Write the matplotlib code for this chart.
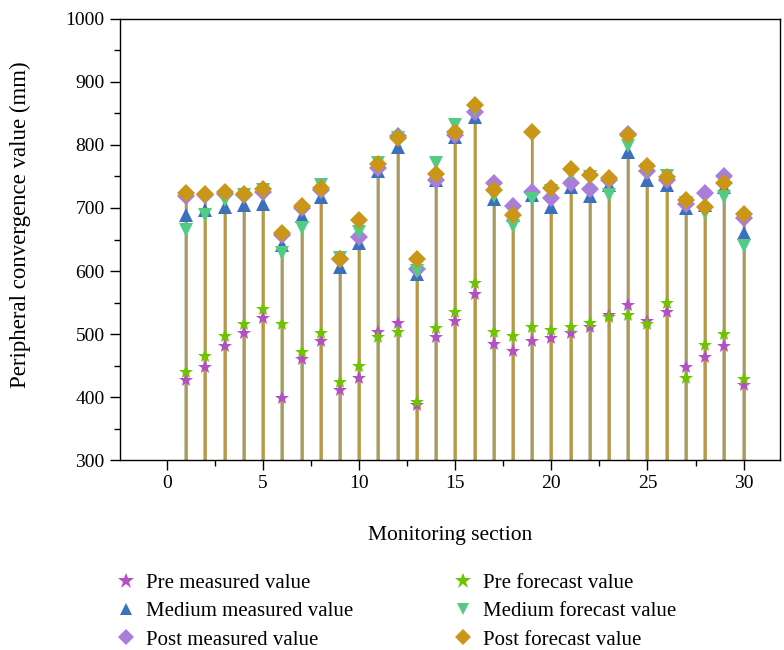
import numpy as np
import matplotlib
matplotlib.use('Agg')
import matplotlib.pyplot as plt
from matplotlib.ticker import MultipleLocator

plt.rcParams['font.family'] = ['Liberation Serif', 'DejaVu Serif']

# --- Data ---
sections = list(range(1, 31))

pre_measured = [427, 448, 481, 501, 526, 398, 461, 489, 411, 431,
                503, 518, 387, 496, 521, 563, 484, 473, 489, 494,
                501, 511, 531, 546, 521, 535, 448, 464, 481, 419]
medium_measured = [689, 697, 702, 705, 707, 641, 687, 717, 607, 645,
                   758, 796, 596, 744, 812, 844, 715, 689, 721, 702,
                   733, 719, 737, 789, 744, 737, 700, 705, 733, 660]
post_measured = [719, 720, 722, 720, 725, 657, 700, 728, 619, 654,
                 763, 814, 603, 744, 815, 853, 739, 703, 726, 716,
                 739, 730, 745, 818, 758, 745, 707, 723, 751, 684]
pre_forecast = [440, 465, 497, 516, 540, 516, 471, 501, 424, 449,
                496, 503, 393, 510, 535, 581, 503, 497, 512, 506,
                512, 518, 527, 531, 516, 549, 430, 483, 500, 428]
medium_forecast = [665, 689, 713, 720, 728, 628, 668, 736, 620, 662,
                   771, 811, 600, 771, 832, 855, 719, 671, 715, 727,
                   754, 749, 720, 798, 760, 751, 708, 692, 718, 639]
post_forecast = [723, 722, 725, 722, 730, 660, 703, 731, 619, 681,
                 769, 811, 619, 754, 820, 863, 729, 689, 821, 732,
                 762, 752, 748, 816, 767, 749, 712, 701, 739, 690]

series = [
    ('Pre measured value', pre_measured, '*', '#b550c4', 10),
    ('Medium measured value', medium_measured, '^', '#3b70bd', 10),
    ('Post measured value', post_measured, 'D', '#a97ed8', 9),
    ('Pre forecast value', pre_forecast, '*', '#6ec400', 10),
    ('Medium forecast value', medium_forecast, 'v', '#52cc84', 10),
    ('Post forecast value', post_forecast, 'D', '#c99618', 9),
]

# --- Plot ---
fig = plt.figure(figsize=(7.84, 6.5), dpi=100)
ax = fig.add_axes([0.153, 0.292, 0.842, 0.679])

# stems from baseline to each value
for label, vals, mk, col, ms in series:
    ax.vlines(sections, 300, vals, colors=col, linewidth=1.6, zorder=1)
# grey-olive stem tint like the original
ax.vlines(sections, 300, post_forecast, colors='#b39a50', linewidth=1.8, zorder=1.5)

handles = []
for label, vals, mk, col, ms in series:
    h, = ax.plot(sections, vals, linestyle='none', marker=mk, color=col,
                 markersize=ms, markeredgewidth=0, label=label, zorder=3)
    handles.append(h)

ax.set_xlim(-2.45, 31.9)
ax.set_ylim(300, 1000)
ax.xaxis.set_major_locator(MultipleLocator(5))
ax.xaxis.set_minor_locator(MultipleLocator(2.5))
ax.yaxis.set_major_locator(MultipleLocator(100))
ax.yaxis.set_minor_locator(MultipleLocator(50))
ax.tick_params(which='major', direction='out', length=7, width=1, labelsize=14, pad=4)
ax.tick_params(which='minor', direction='out', length=4, width=1)
for sp in ax.spines.values():
    sp.set_linewidth(1)

ax.set_xlabel('Monitoring section', fontsize=15.5, labelpad=24)
ax.set_ylabel('Peripheral convergence value (mm)', fontsize=16.5)
ax.yaxis.set_label_coords(-0.135, 0.533)

leg_kw = dict(frameon=False, fontsize=15, loc='upper left', borderpad=0,
              borderaxespad=0, handlelength=0.8, handletextpad=0.56,
              labelspacing=0.42)
leg1 = fig.legend(handles=handles[:3], bbox_to_anchor=(0.150, 0.118), **leg_kw)
leg2 = fig.legend(handles=handles[3:], bbox_to_anchor=(0.580, 0.118), **leg_kw)
# legend stars a bit larger, other markers a bit smaller
for leg in (leg1, leg2):
    for lh in leg.legend_handles:
        lh.set_markersize(12 if lh.get_marker() == '*' else 8)

fig.savefig('out.png', dpi=100)
